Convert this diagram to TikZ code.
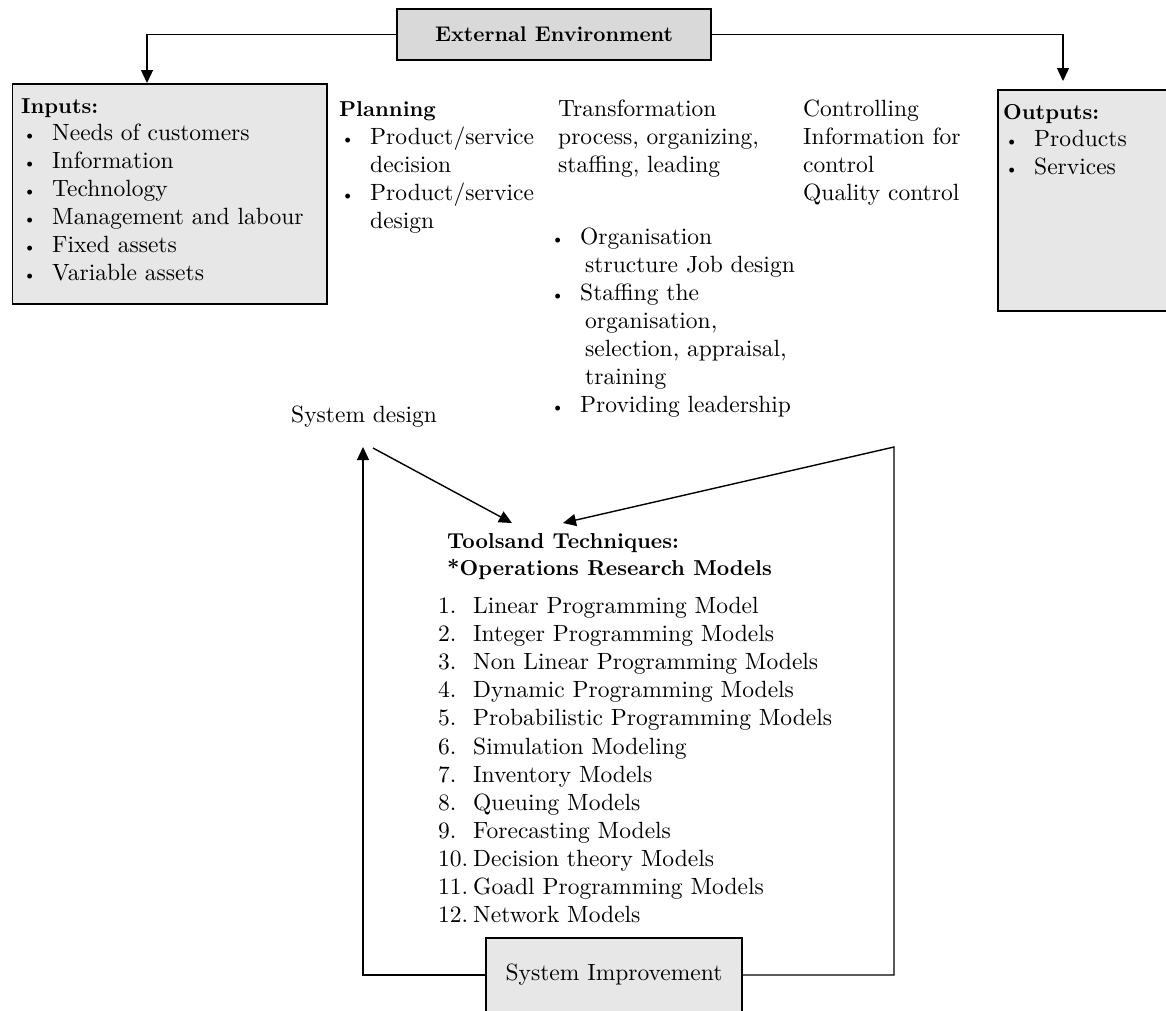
\documentclass[tikz,border=0pt]{standalone}
\usepackage{fontspec}
\setmainfont{lmroman10-regular}[Extension=.otf, BoldFont=lmroman10-bold]
\usetikzlibrary{arrows.meta}
\definecolor{extgray}{RGB}{217,217,217}
\definecolor{boxgray}{RGB}{231,231,231}
\newcommand{\bul}{\makebox[29pt][l]{\fontsize{17}{28}\selectfont\textbullet}}
\newcommand{\num}[1]{\makebox[35pt][l]{#1}}
\begin{document}
\begin{tikzpicture}[x=1pt,y=-1pt,
  box/.style={draw, line width=1.5pt, inner sep=0pt},
  txt/.style={anchor=base west, inner sep=0pt, font=\fontsize{23.5}{28}\selectfont},
  bld/.style={anchor=base west, inner sep=0pt, font=\fontsize{21.6}{28}\selectfont\bfseries},
  conn/.style={line width=1.4pt},
  arr/.style={conn, -{Triangle[length=13pt,width=12pt]}}]
\useasboundingbox (0,0) rectangle (1166,1010);
\clip (0,0) rectangle (1166,1010);

% boxes
\node[box, fill=extgray, minimum width=314pt, minimum height=51pt,
      font=\fontsize{21.2}{28}\selectfont\bfseries] (ext) at (554,34.5) {External Environment};
\node[box, fill=boxgray, anchor=north west, minimum width=314.5pt, minimum height=220pt] (inputs) at (11.5,83) {};
\node[box, fill=boxgray, anchor=north west, minimum width=200pt, minimum height=221pt] (outputs) at (997,89) {};
\node[box, fill=boxgray, minimum width=256pt, minimum height=74pt,
      font=\fontsize{23.5}{28}\selectfont] (sysimp) at (614,975) {System Improvement};

% inputs text
\node[bld] (in0) at (21,113) {Inputs:};
\node[txt] (in1) at (23,140) {\bul Needs of customers};
\node[txt] (in2) at (23,168) {\bul Information};
\node[txt] (in3) at (23,196) {\bul Technology};
\node[txt] (in4) at (23,224) {\bul Management and labour};
\node[txt] (in5) at (23,252) {\bul Fixed assets};
\node[txt] (in6) at (23,280) {\bul Variable assets};

% planning
\node[bld] (pl0) at (339,116) {Planning};
\node[txt] (pl1) at (341,144) {\bul Product/service};
\node[txt] (pl2) at (370,172) {decision};
\node[txt] (pl3) at (341,200) {\bul Product/service};
\node[txt] (pl4) at (370,228) {design};

% transformation
\node[txt] (tr1) at (558,116) {Transformation};
\node[txt] (tr2) at (558,144) {process, organizing,};
\node[txt] (tr3) at (558,172) {staffing, leading};

% controlling
\node[txt] (co1) at (803,116) {Controlling};
\node[txt] (co2) at (803,144) {Information for};
\node[txt] (co3) at (803,172) {control};
\node[txt] (co4) at (803,200) {Quality control};

% outputs
\node[bld] (ou0) at (1003,119) {Outputs:};
\node[txt] (ou1) at (1005,146) {\bul Products};
\node[txt] (ou2) at (1005,174) {\bul Services};

% organisation list
\node[txt] (or1) at (551,244) {\bul Organisation};
\node[txt] (or2) at (585,272) {structure Job design};
\node[txt] (or3) at (551,300) {\bul Staffing the};
\node[txt] (or4) at (585,328) {organisation,};
\node[txt] (or5) at (585,356) {selection, appraisal,};
\node[txt] (or6) at (585,384) {training};
\node[txt] (or7) at (551,412) {\bul Providing leadership};

% system design
\node[txt] (sd) at (291,422) {System design};

% tools
\node[bld] (tl1) at (447,548) {Toolsand Techniques:};
\node[bld] (tl2) at (447,575) {*Operations Research Models};
\node[txt] (m1) at (438,613) {\num{1.}Linear Programming Model};
\node[txt] (m2) at (438,641) {\num{2.}Integer Programming Models};
\node[txt] (m3) at (438,669) {\num{3.}Non Linear Programming Models};
\node[txt] (m4) at (438,697) {\num{4.}Dynamic Programming Models};
\node[txt] (m5) at (438,725) {\num{5.}Probabilistic Programming Models};
\node[txt] (m6) at (438,754) {\num{6.}Simulation Modeling};
\node[txt] (m7) at (438,782) {\num{7.}Inventory Models};
\node[txt] (m8) at (438,810) {\num{8.}Queuing Models};
\node[txt] (m9) at (438,838) {\num{9.}Forecasting Models};
\node[txt] (m10) at (438,866) {\num{10.}Decision theory Models};
\node[txt] (m11) at (438,894) {\num{11.}Goadl Programming Models};
\node[txt] (m12) at (438,922) {\num{12.}Network Models};

% connector end points
\coordinate (inArr) at (147,83);
\coordinate (outArr) at (1063,81);
\coordinate (sdTip) at (363,447);
\coordinate (sdStart) at (373,448);
\coordinate (toolL) at (512,523);
\coordinate (toolR) at (563,523);
\coordinate (rTop) at (894,447);

% connectors
\draw[arr] (ext.west) -| (inArr);
\draw[arr] (ext.east) -| (outArr);
\draw[arr] (sysimp.west) -| (sdTip);
\draw[arr] (sdStart) -- (toolL);
\draw[arr] (sysimp.east) -| (rTop) -- (toolR);
\end{tikzpicture}
\end{document}
